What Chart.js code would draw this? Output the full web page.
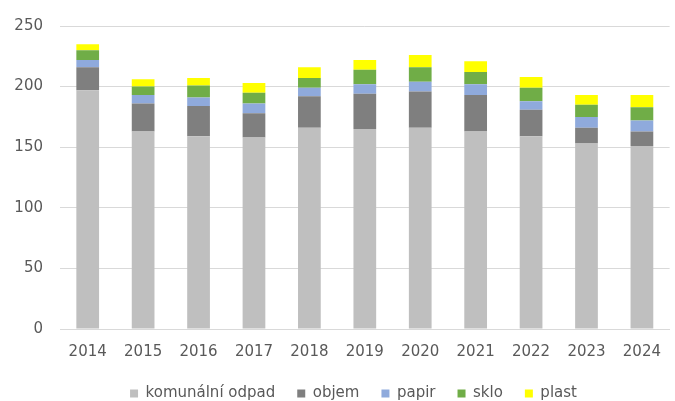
<!DOCTYPE html>
<html>
<head>
<meta charset="utf-8">
<script src="https://cdn.jsdelivr.net/npm/chart.js@4"></script>
<style>
  html, body { margin: 0; padding: 0; background: #fff; }
  #wrap { width: 675px; height: 401px; }
</style>
</head>
<body>
<div id="wrap"><canvas id="chartOdpad"></canvas></div>
<script>
const roky = ['2014', '2015', '2016', '2017', '2018', '2019', '2020', '2021', '2022', '2023', '2024'];
const komunalni = [197, 163, 159, 158, 166, 165, 166, 163, 159, 153, 151];
const objem = [19, 23, 25, 20, 26, 29, 30, 30, 22, 13, 12];
const papir = [6, 7, 7, 8, 7, 8, 8, 9, 7, 9, 9];
const sklo = [8, 7, 10, 9, 8, 12, 12, 10, 11, 10, 11];
const plast = [5, 6, 6, 8, 9, 8, 10, 9, 9, 8, 10];

const fontFamily = "'DejaVu Sans', sans-serif";
const textColor = '#595959';
const barPercentage = 0.41;

function dataset(label, data, color) {
  return {
    label: label,
    data: data,
    backgroundColor: color,
    borderWidth: 0,
    barPercentage: barPercentage,
    categoryPercentage: 1
  };
}

// legenda v originale neni presne na stredu
const legendShift = {
  id: 'legendShift',
  afterLayout(chart) {
    chart.legend.left += 16;
    chart.legend.right += 16;
  }
};

const ctx = document.getElementById('chartOdpad').getContext('2d');

const myChart = new Chart(ctx, {
  type: 'bar',
  data: {
    labels: roky,
    datasets: [
      dataset('komunální odpad', komunalni, '#bfbfbf'),
      dataset('objem', objem, '#7f7f7f'),
      dataset('papir', papir, '#8faadc'),
      dataset('sklo', sklo, '#70ad47'),
      dataset('plast', plast, '#ffff00')
    ]
  },
  plugins: [legendShift],
  options: {
    responsive: true,
    maintainAspectRatio: false,
    animation: false,
    layout: {
      autoPadding: false,
      padding: { top: 23, right: 0, bottom: -10, left: 0 }
    },
    plugins: {
      tooltip: { enabled: false },
      legend: {
        position: 'bottom',
        labels: {
          boxWidth: 8,
          boxHeight: 8,
          padding: 22,
          color: textColor,
          font: { family: fontFamily, size: 15 }
        }
      }
    },
    scales: {
      x: {
        stacked: true,
        afterFit: function (scale) { scale.height = 35; },
        grid: { display: false, drawTicks: false },
        border: { color: '#d9d9d9', width: 1 },
        ticks: {
          color: textColor,
          padding: 14,
          font: { family: fontFamily, size: 15 }
        }
      },
      y: {
        stacked: true,
        min: 0,
        max: 250,
        afterFit: function (scale) { scale.width = 60; },
        grid: { color: '#d9d9d9', drawTicks: false },
        border: { display: false },
        ticks: {
          stepSize: 50,
          color: textColor,
          padding: 17,
          font: { family: fontFamily, size: 15 }
        }
      }
    }
  }
});
</script>
</body>
</html>
